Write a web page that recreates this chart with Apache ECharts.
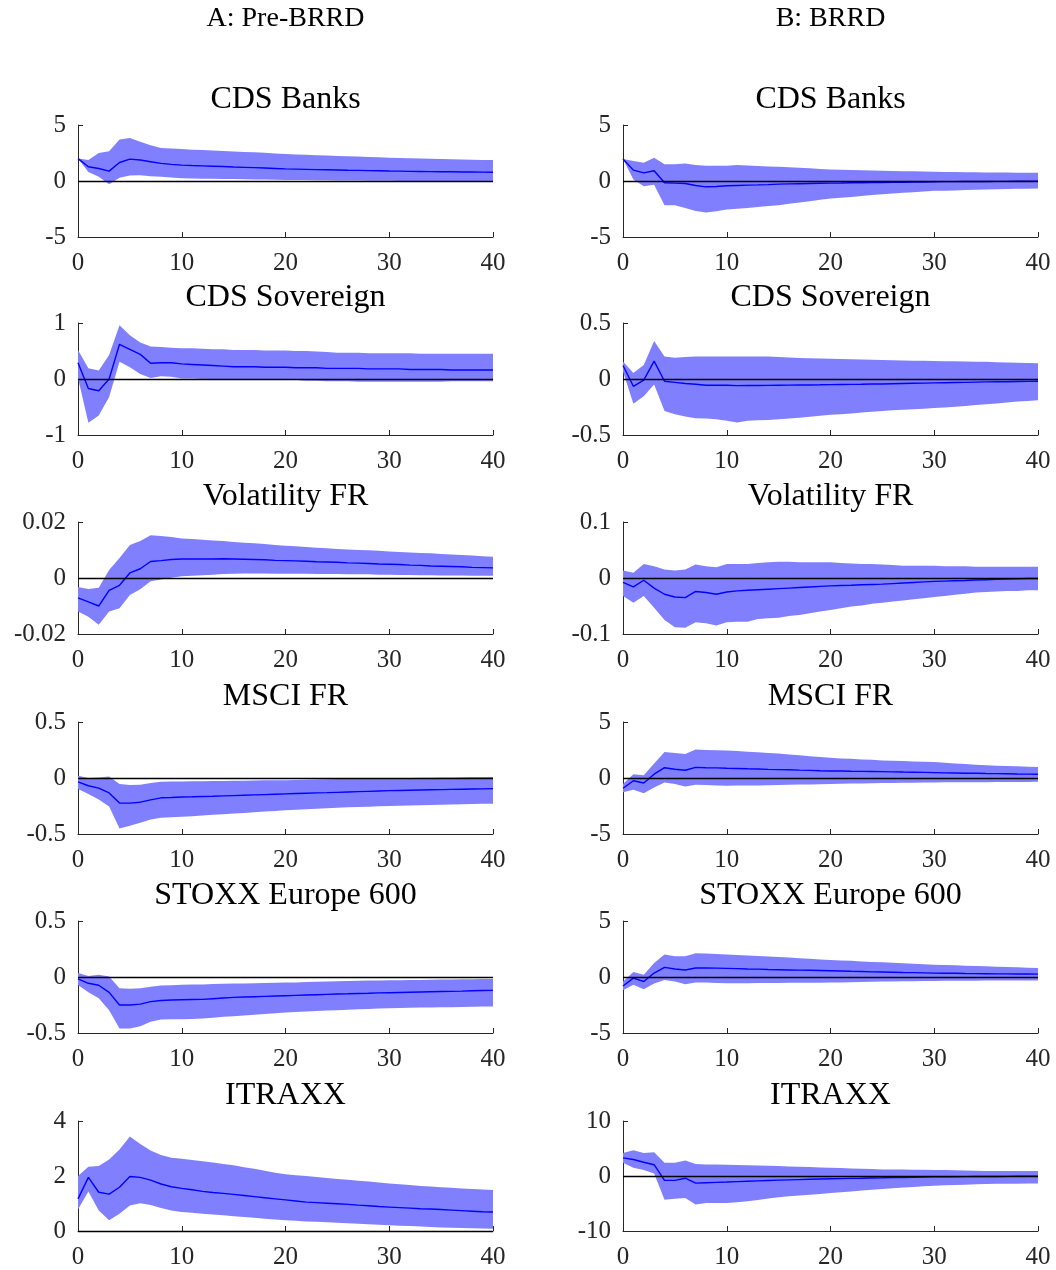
<!DOCTYPE html>
<html>
<head>
<meta charset="utf-8">
<title>IRF Pre-BRRD vs BRRD</title>
<script src="https://cdn.jsdelivr.net/npm/echarts@6/dist/echarts.min.js"></script>
<style>
  html, body { margin: 0; padding: 0; background: #fff; }
  #main { width: 1056px; height: 1270px; }
</style>
</head>
<body>
<div id="main"></div>
<script>
// horizon 0..40
var horizon = [0,1,2,3,4,5,6,7,8,9,10,11,12,13,14,15,16,17,18,19,20,21,22,23,24,25,26,27,28,29,30,31,32,33,34,35,36,37,38,39,40];

var columnTitles = ['A: Pre-BRRD', 'B: BRRD'];
var panelTitles = ['CDS Banks', 'CDS Sovereign', 'Volatility FR', 'MSCI FR', 'STOXX Europe 600', 'ITRAXX'];

// y axis ticks [min, max, interval] per panel, left col then right col
var yTicksPre  = [[-5, 5, 5], [-1, 1, 1], [-0.02, 0.02, 0.02], [-0.5, 0.5, 0.5], [-0.5, 0.5, 0.5], [0, 4, 2]];
var yTicksBrrd = [[-5, 5, 5], [-0.5, 0.5, 0.5], [-0.1, 0.1, 0.1], [-5, 5, 5], [-5, 5, 5], [-10, 10, 10]];

// ---- A: Pre-BRRD ----
var cdsBanksPreMed = [2.0,1.27,1.12,0.88,1.65,1.95,1.87,1.72,1.57,1.48,1.42,1.38,1.35,1.32,1.29,1.25,1.22,1.19,1.16,1.12,1.08,1.06,1.04,1.02,1.0,0.98,0.96,0.95,0.93,0.91,0.89,0.88,0.86,0.85,0.84,0.83,0.82,0.81,0.8,0.79,0.78];
var cdsBanksPreUp  = [2.0,1.87,2.5,2.65,3.7,3.83,3.5,3.2,2.95,2.9,2.85,2.8,2.76,2.72,2.68,2.64,2.6,2.56,2.52,2.46,2.4,2.37,2.34,2.31,2.28,2.24,2.21,2.18,2.15,2.12,2.08,2.05,2.03,2.0,1.98,1.96,1.94,1.92,1.9,1.88,1.87];
var cdsBanksPreLo  = [2.0,0.8,0.37,-0.3,0.28,0.49,0.52,0.43,0.37,0.31,0.25,0.23,0.21,0.2,0.18,0.17,0.16,0.14,0.13,0.12,0.1,0.09,0.08,0.07,0.06,0.05,0.05,0.04,0.03,0.03,0.02,0.01,0.0,0.0,-0.01,-0.02,-0.03,-0.04,-0.05,-0.06,-0.07];

var cdsSovPreMed = [0.29,-0.17,-0.21,0.0,0.62,0.53,0.44,0.28,0.29,0.29,0.27,0.26,0.25,0.24,0.23,0.22,0.22,0.22,0.21,0.21,0.21,0.2,0.2,0.2,0.19,0.19,0.19,0.19,0.18,0.18,0.18,0.18,0.17,0.17,0.17,0.17,0.16,0.16,0.16,0.16,0.16];
var cdsSovPreUp  = [0.52,0.19,0.15,0.43,0.96,0.78,0.65,0.58,0.57,0.56,0.55,0.55,0.54,0.53,0.53,0.52,0.52,0.52,0.51,0.51,0.51,0.5,0.5,0.49,0.48,0.47,0.47,0.47,0.46,0.46,0.46,0.46,0.46,0.45,0.45,0.45,0.45,0.45,0.45,0.45,0.45];
var cdsSovPreLo  = [0.02,-0.78,-0.65,-0.32,0.31,0.21,0.09,0.02,0.05,0.04,0.01,0.01,0.0,0.0,-0.01,-0.01,-0.01,-0.01,-0.02,-0.02,-0.02,-0.02,-0.03,-0.03,-0.04,-0.04,-0.04,-0.05,-0.05,-0.05,-0.05,-0.05,-0.05,-0.05,-0.05,-0.05,-0.04,-0.04,-0.04,-0.04,-0.04];

var volPreMed = [-0.0071,-0.0085,-0.0100,-0.0044,-0.0026,0.0018,0.0033,0.0059,0.0062,0.0066,0.0068,0.0068,0.0068,0.0068,0.0069,0.0068,0.0067,0.0066,0.0065,0.0063,0.0062,0.0061,0.006,0.0058,0.0057,0.0056,0.0054,0.0053,0.0052,0.005,0.0049,0.0048,0.0046,0.0045,0.0043,0.0042,0.0041,0.004,0.0038,0.0037,0.0036];
var volPreUp  = [-0.0032,-0.0039,-0.0035,0.0029,0.0071,0.0118,0.0132,0.0153,0.015,0.0146,0.0141,0.0139,0.0137,0.0134,0.0132,0.0129,0.0126,0.0124,0.0121,0.0118,0.0115,0.0113,0.0111,0.0108,0.0106,0.0104,0.0102,0.01,0.0099,0.0097,0.0095,0.0093,0.0091,0.0089,0.0088,0.0086,0.0084,0.0082,0.008,0.0078,0.0076];
var volPreLo  = [-0.012,-0.0138,-0.0167,-0.012,-0.0108,-0.0061,-0.004,-0.0012,-0.0005,0.0001,0.0006,0.0008,0.001,0.0012,0.0014,0.0015,0.0016,0.0016,0.0016,0.0015,0.0015,0.0015,0.0015,0.0014,0.0014,0.0014,0.0013,0.0013,0.0013,0.0012,0.0012,0.0011,0.0011,0.001,0.001,0.0009,0.0009,0.0009,0.0008,0.0008,0.0008];

var msciPreMed = [-0.034,-0.069,-0.09,-0.133,-0.224,-0.224,-0.216,-0.195,-0.177,-0.174,-0.17,-0.168,-0.165,-0.163,-0.16,-0.157,-0.154,-0.151,-0.148,-0.145,-0.142,-0.139,-0.136,-0.133,-0.131,-0.128,-0.125,-0.122,-0.119,-0.116,-0.113,-0.111,-0.109,-0.107,-0.105,-0.104,-0.102,-0.1,-0.098,-0.097,-0.095];
var msciPreUp  = [0.019,0.0,0.004,0.013,-0.054,-0.063,-0.06,-0.045,-0.034,-0.032,-0.031,-0.03,-0.029,-0.027,-0.026,-0.025,-0.024,-0.023,-0.021,-0.02,-0.019,-0.017,-0.015,-0.014,-0.012,-0.01,-0.008,-0.006,-0.004,-0.002,-0.001,0.0,0.001,0.002,0.003,0.004,0.005,0.006,0.008,0.009,0.01];
var msciPreLo  = [-0.098,-0.142,-0.192,-0.254,-0.45,-0.427,-0.4,-0.37,-0.356,-0.351,-0.347,-0.341,-0.335,-0.329,-0.323,-0.318,-0.312,-0.306,-0.3,-0.294,-0.289,-0.284,-0.279,-0.274,-0.269,-0.265,-0.262,-0.259,-0.256,-0.253,-0.25,-0.248,-0.246,-0.243,-0.241,-0.239,-0.237,-0.235,-0.233,-0.231,-0.23];

var stoxxPreMed = [-0.017,-0.056,-0.074,-0.137,-0.25,-0.25,-0.242,-0.22,-0.21,-0.206,-0.203,-0.201,-0.2,-0.194,-0.188,-0.182,-0.179,-0.176,-0.173,-0.17,-0.167,-0.164,-0.161,-0.158,-0.155,-0.152,-0.15,-0.147,-0.145,-0.142,-0.14,-0.138,-0.136,-0.134,-0.132,-0.13,-0.128,-0.126,-0.123,-0.121,-0.119];
var stoxxPreUp  = [0.035,0.01,0.02,0.005,-0.1,-0.106,-0.1,-0.086,-0.077,-0.073,-0.07,-0.068,-0.066,-0.063,-0.061,-0.059,-0.057,-0.055,-0.054,-0.052,-0.05,-0.048,-0.045,-0.043,-0.04,-0.038,-0.036,-0.034,-0.032,-0.031,-0.029,-0.028,-0.027,-0.026,-0.024,-0.023,-0.022,-0.021,-0.019,-0.018,-0.017];
var stoxxPreLo  = [-0.071,-0.137,-0.19,-0.296,-0.46,-0.46,-0.44,-0.4,-0.38,-0.378,-0.377,-0.374,-0.37,-0.363,-0.356,-0.35,-0.343,-0.337,-0.33,-0.324,-0.317,-0.313,-0.308,-0.304,-0.3,-0.296,-0.292,-0.289,-0.285,-0.282,-0.278,-0.276,-0.275,-0.273,-0.272,-0.27,-0.269,-0.267,-0.266,-0.264,-0.263];

var itraxxPreMed = [1.17,1.95,1.41,1.34,1.59,1.98,1.95,1.85,1.71,1.61,1.55,1.5,1.44,1.4,1.37,1.33,1.29,1.25,1.21,1.17,1.13,1.09,1.05,1.03,1.01,0.99,0.97,0.94,0.92,0.89,0.87,0.85,0.83,0.81,0.8,0.78,0.76,0.74,0.72,0.7,0.69];
var itraxxPreUp  = [2.0,2.34,2.36,2.6,2.96,3.44,3.16,2.93,2.76,2.66,2.63,2.58,2.54,2.49,2.44,2.39,2.32,2.26,2.19,2.12,2.06,2.03,2.0,1.96,1.93,1.89,1.86,1.83,1.8,1.76,1.73,1.7,1.67,1.64,1.62,1.59,1.57,1.55,1.53,1.51,1.49];
var itraxxPreLo  = [0.78,1.44,0.75,0.39,0.63,0.93,1.01,0.95,0.84,0.75,0.69,0.66,0.63,0.6,0.57,0.54,0.51,0.48,0.45,0.42,0.39,0.37,0.35,0.34,0.32,0.3,0.28,0.26,0.25,0.23,0.21,0.19,0.18,0.16,0.15,0.13,0.12,0.11,0.1,0.09,0.08];

// ---- B: BRRD ----
var cdsBanksBrrdMed = [1.96,0.97,0.73,0.91,-0.16,-0.19,-0.22,-0.4,-0.52,-0.49,-0.43,-0.4,-0.37,-0.35,-0.32,-0.28,-0.26,-0.24,-0.22,-0.2,-0.19,-0.18,-0.16,-0.15,-0.14,-0.13,-0.12,-0.11,-0.1,-0.09,-0.07,-0.06,-0.06,-0.05,-0.04,-0.04,-0.03,-0.03,-0.02,-0.02,-0.01];
var cdsBanksBrrdUp  = [1.96,1.78,1.63,2.07,1.5,1.5,1.57,1.42,1.36,1.36,1.36,1.42,1.38,1.34,1.3,1.27,1.22,1.18,1.13,1.08,1.03,1.0,0.98,0.96,0.94,0.92,0.9,0.88,0.86,0.84,0.82,0.81,0.8,0.79,0.78,0.77,0.76,0.75,0.74,0.74,0.73];
var cdsBanksBrrdLo  = [1.96,0.13,-0.46,-0.34,-2.16,-2.16,-2.4,-2.67,-2.82,-2.7,-2.55,-2.48,-2.4,-2.32,-2.24,-2.16,-2.04,-1.92,-1.8,-1.68,-1.57,-1.5,-1.42,-1.34,-1.26,-1.18,-1.12,-1.06,-1.0,-0.94,-0.88,-0.86,-0.84,-0.81,-0.79,-0.76,-0.74,-0.72,-0.7,-0.69,-0.67];

var cdsSovBrrdMed = [0.12,-0.065,-0.01,0.16,-0.02,-0.03,-0.04,-0.047,-0.056,-0.056,-0.056,-0.059,-0.058,-0.058,-0.057,-0.056,-0.055,-0.054,-0.053,-0.052,-0.05,-0.049,-0.048,-0.047,-0.045,-0.044,-0.042,-0.04,-0.038,-0.037,-0.035,-0.033,-0.031,-0.03,-0.028,-0.026,-0.025,-0.024,-0.022,-0.021,-0.02];
var cdsSovBrrdUp  = [0.156,0.053,0.126,0.34,0.2,0.19,0.197,0.2,0.2,0.2,0.2,0.2,0.2,0.2,0.2,0.197,0.192,0.188,0.186,0.183,0.18,0.178,0.176,0.174,0.172,0.17,0.168,0.166,0.164,0.162,0.16,0.159,0.158,0.157,0.155,0.153,0.15,0.148,0.145,0.142,0.14];
var cdsSovBrrdLo  = [0.068,-0.22,-0.153,-0.05,-0.285,-0.315,-0.335,-0.35,-0.353,-0.36,-0.373,-0.388,-0.373,-0.368,-0.365,-0.36,-0.352,-0.345,-0.337,-0.328,-0.32,-0.315,-0.308,-0.3,-0.293,-0.285,-0.28,-0.275,-0.27,-0.265,-0.26,-0.254,-0.247,-0.24,-0.233,-0.226,-0.218,-0.21,-0.202,-0.196,-0.19];

var volBrrdMed = [-0.008,-0.016,-0.004,-0.018,-0.029,-0.034,-0.035,-0.024,-0.026,-0.029,-0.025,-0.023,-0.022,-0.021,-0.02,-0.019,-0.018,-0.017,-0.016,-0.015,-0.014,-0.0135,-0.013,-0.012,-0.0115,-0.011,-0.01,-0.009,-0.008,-0.007,-0.006,-0.0055,-0.005,-0.0045,-0.0035,-0.003,-0.0025,-0.002,-0.0015,-0.001,-0.001];
var volBrrdUp  = [0.0135,0.0094,0.025,0.021,0.015,0.0135,0.015,0.024,0.021,0.019,0.025,0.025,0.025,0.027,0.028,0.029,0.029,0.028,0.028,0.028,0.028,0.027,0.026,0.025,0.025,0.024,0.023,0.022,0.022,0.022,0.022,0.021,0.021,0.021,0.02,0.02,0.02,0.02,0.02,0.02,0.02];
var volBrrdLo  = [-0.032,-0.044,-0.032,-0.053,-0.075,-0.088,-0.089,-0.079,-0.081,-0.085,-0.079,-0.078,-0.078,-0.073,-0.072,-0.071,-0.068,-0.066,-0.063,-0.06,-0.057,-0.054,-0.051,-0.049,-0.046,-0.044,-0.042,-0.04,-0.038,-0.036,-0.034,-0.032,-0.03,-0.028,-0.026,-0.025,-0.024,-0.023,-0.023,-0.022,-0.022];

var msciBrrdMed = [-0.92,-0.25,-0.45,0.34,0.92,0.78,0.69,0.95,0.92,0.9,0.87,0.85,0.82,0.8,0.77,0.75,0.73,0.7,0.68,0.65,0.63,0.62,0.6,0.59,0.58,0.57,0.55,0.53,0.52,0.5,0.48,0.46,0.45,0.43,0.42,0.4,0.39,0.38,0.36,0.35,0.34];
var msciBrrdUp  = [-0.54,0.34,0.25,1.3,2.33,2.24,2.15,2.54,2.5,2.48,2.45,2.4,2.35,2.29,2.23,2.18,2.1,2.03,1.95,1.88,1.8,1.75,1.71,1.66,1.62,1.57,1.54,1.51,1.48,1.45,1.42,1.36,1.3,1.25,1.19,1.13,1.1,1.07,1.04,1.01,0.98];
var msciBrrdLo  = [-1.28,-1.04,-1.36,-0.84,-0.4,-0.54,-0.75,-0.6,-0.63,-0.66,-0.69,-0.68,-0.67,-0.66,-0.65,-0.63,-0.61,-0.59,-0.58,-0.56,-0.54,-0.52,-0.5,-0.48,-0.47,-0.45,-0.44,-0.43,-0.42,-0.41,-0.4,-0.39,-0.39,-0.38,-0.38,-0.37,-0.36,-0.36,-0.35,-0.35,-0.34];

var stoxxBrrdMed = [-0.8,-0.1,-0.4,0.35,0.86,0.71,0.62,0.8,0.8,0.79,0.77,0.75,0.72,0.7,0.67,0.65,0.63,0.61,0.6,0.58,0.56,0.54,0.51,0.49,0.46,0.44,0.42,0.4,0.39,0.37,0.35,0.34,0.33,0.31,0.3,0.29,0.28,0.28,0.27,0.27,0.26];
var stoxxBrrdUp  = [-0.4,0.44,0.2,1.25,2.0,1.85,1.85,2.12,2.09,2.05,2.0,1.96,1.92,1.87,1.83,1.79,1.74,1.68,1.63,1.57,1.52,1.48,1.44,1.39,1.35,1.31,1.27,1.22,1.18,1.14,1.1,1.07,1.04,1.01,0.98,0.95,0.92,0.89,0.86,0.83,0.8];
var stoxxBrrdLo  = [-1.19,-0.7,-1.1,-0.59,-0.26,-0.41,-0.65,-0.5,-0.5,-0.53,-0.56,-0.55,-0.55,-0.54,-0.54,-0.53,-0.52,-0.52,-0.51,-0.51,-0.5,-0.48,-0.46,-0.45,-0.43,-0.41,-0.4,-0.39,-0.37,-0.36,-0.35,-0.34,-0.34,-0.33,-0.33,-0.32,-0.32,-0.32,-0.32,-0.32,-0.32];

var itraxxBrrdMed = [3.3,3.0,2.5,2.05,-0.8,-0.8,-0.4,-1.3,-1.22,-1.16,-1.1,-1.03,-0.96,-0.89,-0.82,-0.75,-0.7,-0.65,-0.6,-0.55,-0.5,-0.47,-0.43,-0.4,-0.36,-0.33,-0.29,-0.26,-0.22,-0.19,-0.15,-0.14,-0.13,-0.11,-0.1,-0.09,-0.08,-0.06,-0.05,-0.04,-0.03];
var itraxxBrrdUp  = [4.2,4.7,4.2,4.3,2.4,2.4,2.8,2.2,2.1,2.08,2.05,2.0,1.95,1.9,1.85,1.8,1.74,1.68,1.62,1.56,1.5,1.44,1.38,1.32,1.26,1.2,1.18,1.16,1.14,1.12,1.1,1.07,1.03,1.0,0.96,0.93,0.93,0.93,0.93,0.93,0.93];
var itraxxBrrdLo  = [2.4,1.5,1.1,0.45,-4.3,-4.15,-4.0,-5.2,-4.9,-4.9,-4.9,-4.75,-4.6,-4.35,-4.1,-3.85,-3.7,-3.55,-3.4,-3.25,-3.1,-2.95,-2.8,-2.65,-2.5,-2.35,-2.23,-2.11,-1.99,-1.87,-1.75,-1.69,-1.63,-1.57,-1.51,-1.45,-1.43,-1.41,-1.39,-1.37,-1.35];

var preBands = [
    [cdsBanksPreLo, cdsBanksPreMed, cdsBanksPreUp],
    [cdsSovPreLo, cdsSovPreMed, cdsSovPreUp],
    [volPreLo, volPreMed, volPreUp],
    [msciPreLo, msciPreMed, msciPreUp],
    [stoxxPreLo, stoxxPreMed, stoxxPreUp],
    [itraxxPreLo, itraxxPreMed, itraxxPreUp]
];
var brrdBands = [
    [cdsBanksBrrdLo, cdsBanksBrrdMed, cdsBanksBrrdUp],
    [cdsSovBrrdLo, cdsSovBrrdMed, cdsSovBrrdUp],
    [volBrrdLo, volBrrdMed, volBrrdUp],
    [msciBrrdLo, msciBrrdMed, msciBrrdUp],
    [stoxxBrrdLo, stoxxBrrdMed, stoxxBrrdUp],
    [itraxxBrrdLo, itraxxBrrdMed, itraxxBrrdUp]
];

// layout
var serif = '"Liberation Serif", "DejaVu Serif", serif';
var colLeft = [78, 623];
var plotW = 415;
var plotH = 112;
var rowTop = [125, 323, 522, 722, 921, 1121];
var axisColor = '#262626';
var bandColor = '#8080ff';

var chart = echarts.init(document.getElementById('main'), null, { renderer: 'canvas' });

var grids = [], xAxes = [], yAxes = [], series = [], titles = [];

for (var c = 0; c < 2; c++) {
    titles.push({ text: columnTitles[c], left: colLeft[c] + plotW / 2, top: 5, textAlign: 'center', padding: 0,
        textStyle: { fontFamily: serif, fontSize: 28, fontWeight: 'normal', color: '#000' } });
}

// 置信区间带：多边形，上沿正向 + 下沿反向
function bandRenderer(lo, up) {
    return function (params, api) {
        if (params.dataIndex !== 0) return;
        var pts = [];
        for (var i = 0; i < horizon.length; i++) pts.push(api.coord([horizon[i], up[i]]));
        for (var j = horizon.length - 1; j >= 0; j--) pts.push(api.coord([horizon[j], lo[j]]));
        return { type: 'polygon', shape: { points: pts }, style: { fill: bandColor, stroke: null } };
    };
}

function addPanel(col, row, bands, ticks) {
    var idx = grids.length;
    grids.push({ left: colLeft[col], top: rowTop[row], width: plotW, height: plotH, containLabel: false });

    titles.push({
        text: panelTitles[row], left: colLeft[col] + plotW / 2, top: rowTop[row] - 41, textAlign: 'center', padding: 0,
        textStyle: { fontFamily: serif, fontSize: 32, fontWeight: 'normal', color: '#000' }
    });

    xAxes.push({
        type: 'value', gridIndex: idx, min: 0, max: 40, interval: 10,
        axisLine: { onZero: false, lineStyle: { color: axisColor, width: 1 } },
        axisTick: { inside: true, length: 5, lineStyle: { color: axisColor } },
        axisLabel: { color: axisColor, fontFamily: serif, fontSize: 25, margin: 14 },
        splitLine: { show: false }
    });
    yAxes.push({
        type: 'value', gridIndex: idx, min: ticks[0], max: ticks[1], interval: ticks[2],
        axisLine: { show: true, lineStyle: { color: axisColor, width: 1 } },
        axisTick: { inside: true, length: 5, lineStyle: { color: axisColor } },
        axisLabel: { color: axisColor, fontFamily: serif, fontSize: 25, margin: 12 },
        splitLine: { show: false }
    });

    var lo = bands[0], med = bands[1], up = bands[2];

    series.push({
        type: 'custom', xAxisIndex: idx, yAxisIndex: idx,
        data: horizon.map(function (h, i) { return [h, lo[i], up[i]]; }),
        encode: { x: 0, y: [1, 2] },
        renderItem: bandRenderer(lo, up),
        silent: true, z: 1
    });
    series.push({
        type: 'line', xAxisIndex: idx, yAxisIndex: idx,
        data: horizon.map(function (h, i) { return [h, med[i]]; }),
        symbol: 'none', lineStyle: { color: '#0000ff', width: 1.4 }, silent: true, z: 3,
        markLine: {
            silent: true, symbol: ['none', 'none'], label: { show: false },
            lineStyle: { color: '#000', width: 1.3, type: 'solid' },
            data: [{ yAxis: 0 }], animation: false
        }
    });
}

for (var r = 0; r < 6; r++) {
    addPanel(0, r, preBands[r], yTicksPre[r]);
    addPanel(1, r, brrdBands[r], yTicksBrrd[r]);
}

chart.setOption({
    animation: false,
    backgroundColor: '#fff',
    title: titles,
    grid: grids,
    xAxis: xAxes,
    yAxis: yAxes,
    series: series
});
</script>
</body>
</html>
